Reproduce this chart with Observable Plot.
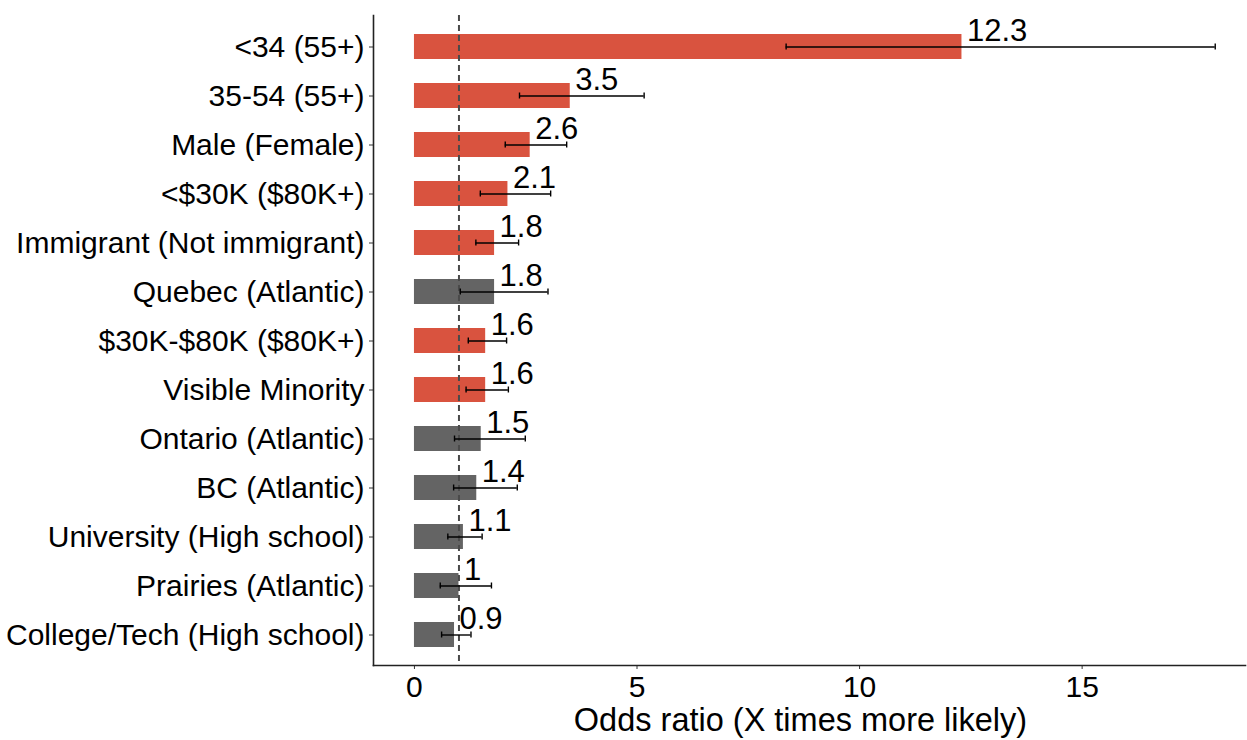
<!DOCTYPE html>
<html>
<head>
<meta charset="utf-8">
<script src="https://cdn.jsdelivr.net/npm/d3@7"></script>
<script src="https://cdn.jsdelivr.net/npm/@observablehq/plot@0.6"></script>
<style>
  body { margin: 0; background: #fff; }
  #chart svg { display: block; }
</style>
</head>
<body>
<div id="chart"></div>
<script>
// Predictors (reference category in brackets), top to bottom
const groups = [
  "<34 (55+)",
  "35-54 (55+)",
  "Male (Female)",
  "<$30K ($80K+)",
  "Immigrant (Not immigrant)",
  "Quebec (Atlantic)",
  "$30K-$80K ($80K+)",
  "Visible Minority",
  "Ontario (Atlantic)",
  "BC (Atlantic)",
  "University (High school)",
  "Prairies (Atlantic)",
  "College/Tech (High school)"
];
const oddsRatios = [12.3, 3.5, 2.6, 2.1, 1.8, 1.8, 1.6, 1.6, 1.5, 1.4, 1.1, 1, 0.9];
const ciLower    = [8.35, 2.36, 2.04, 1.48, 1.38, 1.03, 1.21, 1.16, 0.90, 0.88, 0.75, 0.58, 0.61];
const ciUpper    = [17.99, 5.16, 3.42, 3.06, 2.34, 3.00, 2.07, 2.11, 2.49, 2.31, 1.52, 1.73, 1.27];
const significant = [true, true, true, true, true, false, true, true, false, false, false, false, false];
const xTicks = [0, 5, 10, 15];
const referenceOR = 1;
const xDomain = [-0.92, 18.67];
const xTitle = "Odds ratio (X times more likely)";

const rows = groups.map((group, i) => ({
  group,
  or: oddsRatios[i],
  lo: ciLower[i],
  hi: ciUpper[i],
  sig: significant[i] ? "significant" : "not significant"
}));

const font = "'Liberation Sans', Arial, Helvetica, sans-serif";
const ink = "#000";

const chart = Plot.plot({
  width: 1247,
  height: 740,
  marginLeft: 373,
  marginRight: 2,
  marginTop: 15,
  marginBottom: 75,
  style: { fontFamily: font, fontSize: "30px", color: ink, background: "#fff" },
  x: { domain: xDomain, label: null },
  y: { domain: groups, paddingInner: 0.5, paddingOuter: 0.35, label: null },
  color: { domain: ["significant", "not significant"], range: ["#d9533f", "#646464"] },
  marks: [
    Plot.barX(rows, { x: "or", y: "group", fill: "sig" }),
    Plot.ruleX([referenceOR], { stroke: "#4a4a4a", strokeWidth: 2, strokeDasharray: "6,4" }),
    // confidence intervals with end caps
    Plot.ruleY(rows, { x1: "lo", x2: "hi", y: "group", stroke: ink, strokeWidth: 1.4 }),
    Plot.tickX(rows, { x: "lo", y: "group", stroke: ink, strokeWidth: 1.4, insetTop: 9.5, insetBottom: 9.5 }),
    Plot.tickX(rows, { x: "hi", y: "group", stroke: ink, strokeWidth: 1.4, insetTop: 9.5, insetBottom: 9.5 }),
    // value labels
    Plot.text(rows, {
      x: "or", y: "group", text: d => String(d.or),
      textAnchor: "start", lineAnchor: "bottom", dx: 5, dy: -6,
      fontSize: 31, fill: ink
    }),
    Plot.axisX({ ticks: xTicks, tickSize: 4, tickPadding: 6, fontSize: 30, label: null, stroke: "#333" }),
    Plot.axisY({ tickSize: 4, tickPadding: 5, fontSize: 30, label: null, stroke: "#333" }),
    Plot.frame({ anchor: "left", stroke: "#222", strokeWidth: 1.6 }),
    Plot.frame({ anchor: "bottom", stroke: "#222", strokeWidth: 1.6 }),
    Plot.text([xTitle], {
      frameAnchor: "bottom", lineAnchor: "bottom", dy: 65, dx: -9,
      fontSize: 32.5, fill: ink
    })
  ]
});

document.getElementById("chart").append(chart);
</script>
</body>
</html>
